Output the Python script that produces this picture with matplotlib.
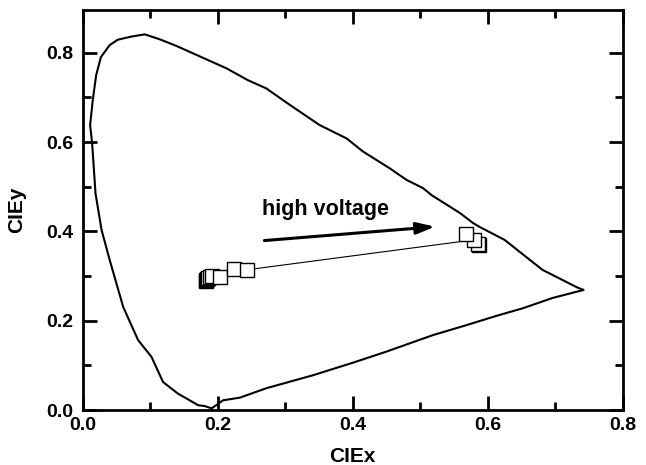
import matplotlib
matplotlib.use('Agg')
import matplotlib.pyplot as plt

plt.rcParams['font.family'] = ['Liberation Sans', 'DejaVu Sans']
plt.rcParams['font.weight'] = 'bold'

# spectral locus
locus_x = [0.191, 0.181, 0.171, 0.155, 0.141, 0.119, 0.102, 0.082, 0.060, 0.040,
           0.028, 0.019, 0.014, 0.011, 0.015, 0.020, 0.027, 0.040, 0.052, 0.072,
           0.092, 0.114, 0.139, 0.173, 0.213, 0.244, 0.272, 0.307, 0.351, 0.391,
           0.415, 0.455, 0.480, 0.504, 0.517, 0.559, 0.578, 0.588, 0.625, 0.681,
           0.732, 0.742, 0.696, 0.652, 0.613, 0.568, 0.519, 0.450, 0.400, 0.341,
           0.272, 0.233, 0.208, 0.191]
locus_y = [0.004, 0.009, 0.011, 0.025, 0.037, 0.063, 0.119, 0.157, 0.231, 0.336,
           0.403, 0.485, 0.597, 0.638, 0.695, 0.750, 0.790, 0.817, 0.829, 0.836,
           0.841, 0.830, 0.815, 0.792, 0.765, 0.739, 0.720, 0.683, 0.638, 0.608,
           0.579, 0.541, 0.515, 0.497, 0.481, 0.441, 0.419, 0.410, 0.381, 0.314,
           0.275, 0.269, 0.251, 0.228, 0.211, 0.190, 0.168, 0.131, 0.106, 0.078,
           0.049, 0.028, 0.022, 0.004]

# CIE coordinates with increasing voltage
cie_x = [0.182, 0.183, 0.184, 0.186, 0.188, 0.192, 0.203, 0.224, 0.243, 0.579, 0.568, 0.585, 0.587]
cie_y = [0.289, 0.291, 0.293, 0.295, 0.297, 0.300, 0.298, 0.316, 0.314, 0.381, 0.395, 0.372, 0.369]
# order the open squares are stacked in (last one on top)
draw_order = [0, 1, 2, 3, 4, 5, 6, 7, 8, 12, 11, 9, 10]

fig = plt.figure(figsize=(6.46, 4.65), dpi=100)
ax = fig.add_axes([0.128, 0.118, 0.836, 0.860])

ax.plot(locus_x, locus_y, color='black', lw=1.5)
ax.plot(cie_x, cie_y, color='black', lw=0.8)
ax.plot([cie_x[i] for i in draw_order], [cie_y[i] for i in draw_order],
        ls='none', marker='s', ms=10, mfc='white', mec='black', mew=1.0)

ax.annotate('', xy=(0.526, 0.411), xytext=(0.265, 0.379),
            arrowprops=dict(arrowstyle='-|>,head_length=1.1,head_width=0.35',
                            color='black', lw=2.2))
ax.text(0.266, 0.437, 'high voltage', fontsize=15.5, fontweight='bold')

ax.set_xlim(0, 0.8)
ax.set_ylim(0, 0.895)
ax.set_xticks([0.0, 0.2, 0.4, 0.6, 0.8])
ax.set_xticks([0.1, 0.3, 0.5, 0.7], minor=True)
ax.set_yticks([0.0, 0.2, 0.4, 0.6, 0.8])
ax.set_yticks([0.1, 0.3, 0.5, 0.7], minor=True)
ax.tick_params(which='both', direction='in', top=True, right=True, width=2, labelsize=14)
ax.tick_params(axis='x', pad=5)
ax.tick_params(axis='y', pad=7)
ax.tick_params(which='major', length=10)
ax.tick_params(which='minor', length=6)
for s in ax.spines.values():
    s.set_linewidth(2)

ax.set_xlabel('CIEx', fontsize=15, fontweight='bold', labelpad=9)
ax.set_ylabel('CIEy', fontsize=15, fontweight='bold', labelpad=14)

fig.savefig('out.png', dpi=100)
